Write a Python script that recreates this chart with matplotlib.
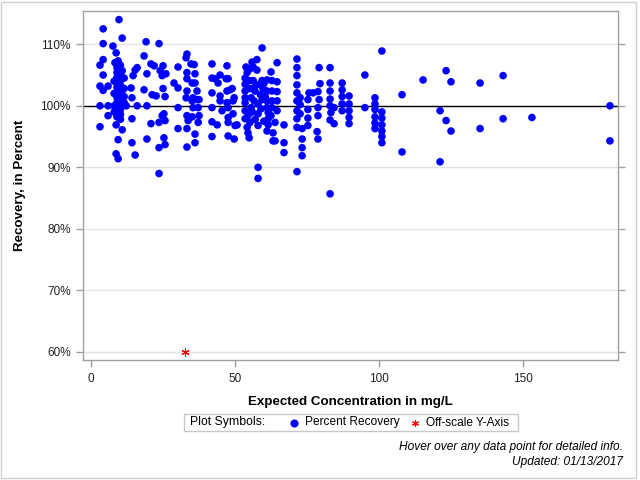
import matplotlib
matplotlib.use("Agg")
import matplotlib.pyplot as plt
from matplotlib.lines import Line2D
from matplotlib.patches import Rectangle
from matplotlib.ticker import PercentFormatter

plt.rcParams["font.family"] = ["Liberation Sans", "DejaVu Sans"]

# expected concentration (mg/L) and percent recovery
conc = [
    3.1, 4.2, 4.2, 4.2, 4.2, 3.1, 4.2, 3.1, 3.1,
    5.9, 5.9, 5.9, 7.6, 8.7, 9.7, 10.8, 8.3, 9.4, 10.8, 12.2, 10.8, 8.7, 10.8, 9.4, 8.7, 9.4,
    9.0, 9.0, 9.0, 9.0, 9.0, 9.0, 9.0, 9.0, 9.0, 9.0, 9.0, 9.0,
    10.2, 10.2, 10.2, 10.2, 10.2, 10.2, 10.2, 10.2, 10.2, 10.2, 10.2, 10.2,
    8.0, 8.0, 8.0, 8.0, 11.5, 11.5, 11.5, 11.5,
    13.9, 14.2, 14.2, 14.2, 15.3, 14.6, 15.3, 16.0, 16.0,
    19.1, 18.4, 19.4, 18.4, 19.4, 19.4, 20.8, 20.8, 21.9, 21.2, 22.6,
    23.6, 23.6, 23.6, 23.6, 24.0, 24.7, 25.0, 25.0, 25.7, 25.3, 25.7, 25.3, 25.7, 24.7, 26.0,
    28.8, 30.2, 30.2, 30.2, 30.2,
    33.3, 33.0, 33.3, 33.3, 33.3, 33.0, 33.3, 33.7, 33.3, 33.3, 34.7, 35.8, 36.1, 35.1,
    36.1, 35.4, 35.1, 35.1, 36.8, 36.8, 37.5, 37.5, 37.2, 36.1, 36.1, 35.4, 37.2,
    42.0, 42.0, 42.0, 42.0, 42.0, 42.0, 43.8, 43.1, 44.1, 44.8, 44.8, 44.8, 45.5, 47.2,
    46.9, 47.6, 48.3, 47.2, 47.2, 47.6, 47.6, 47.6, 47.6, 49.0, 49.7, 49.3, 49.3, 50.0,
    50.7, 49.7,
    53.8, 54.2, 53.5, 53.5, 53.5, 53.5, 53.5, 53.5, 53.5, 54.2, 54.5, 54.9, 54.5, 55.2,
    54.9, 55.2, 55.6, 55.6, 55.2, 55.9, 56.3, 56.3, 56.9, 56.6, 57.6, 58.0, 58.0, 58.0,
    58.0, 58.0, 59.4, 57.6, 59.4, 59.7, 59.4, 61.1, 61.1, 61.1, 61.1, 61.5, 61.5, 61.5,
    61.1, 62.5, 62.8, 62.8, 62.8, 62.8, 62.5, 63.2, 63.2, 63.9, 64.6, 64.6, 64.6, 64.6,
    64.6, 63.9, 67.0, 67.0, 67.0,
    57.0, 58.5, 60.0, 60.5, 58.8, 56.0, 59.0, 60.0, 57.0,
    71.5, 71.5, 71.5, 71.5, 71.5, 71.5, 71.5, 71.5, 71.5, 71.5, 72.6, 72.6, 72.6, 73.3,
    73.3, 73.3, 73.3,
    75.3, 75.3, 75.3, 75.3, 75.7, 77.1, 78.8, 79.5, 79.2, 79.2, 78.8, 78.8, 78.5, 78.8,
    83.0, 83.0, 83.0, 83.0, 83.0, 83.3, 83.0, 84.4, 84.4, 83.0,
    87.2, 87.2, 87.2, 87.2, 87.2, 89.6, 89.6, 89.6, 89.6, 89.6,
    95.1, 95.1, 101.0, 98.6, 98.6, 98.6, 98.6, 98.6, 98.6,
    101.0, 101.0, 101.0, 101.0, 101.0, 101.0, 108.0, 108.0, 115.3, 121.2, 121.2,
    123.3, 123.3, 125.0, 125.0, 135.1, 135.1, 143.1, 143.1, 153.1, 180.2, 180.2,
]
recovery = [
    106.6, 112.5, 110.1, 107.5, 105.0, 103.2, 102.5, 100.0, 96.6,
    100.0, 98.4, 103.2, 109.7, 108.6, 114.0, 111.0, 107.0, 107.3, 105.7, 100.0, 101.8, 96.9, 96.1, 94.5, 92.2, 91.4,
    107.0, 106.2, 105.4, 104.6, 103.8, 103.0, 102.2, 101.4, 100.6, 99.8, 99.0, 98.2,
    106.6, 105.8, 105.0, 104.2, 103.4, 102.6, 101.8, 101.0, 100.2, 99.4, 98.6, 97.8,
    104.0, 102.0, 100.0, 99.0, 104.5, 102.8, 101.5, 100.5,
    102.9, 101.3, 97.9, 94.0, 92.0, 104.9, 105.8, 106.2, 100.0,
    110.4, 108.1, 105.2, 102.6, 100.0, 94.6, 97.1, 106.8, 106.5, 101.8, 101.6,
    110.1, 89.0, 93.2, 97.3, 105.7, 104.9, 106.5, 102.8, 101.5, 98.7, 97.6, 94.8, 93.7, 98.4, 105.2,
    103.7, 102.9, 99.7, 96.3, 106.3,
    108.4, 107.8, 104.4, 105.4, 102.4, 101.3, 98.4, 97.6, 96.3, 93.3, 106.8, 106.7, 105.2, 103.7,
    103.7, 101.3, 100.8, 98.2, 102.4, 101.0, 101.0, 98.4, 97.3, 95.4, 94.0, 99.7, 99.7,
    106.8, 104.5, 102.1, 99.7, 97.4, 95.0, 96.9, 104.4, 103.7, 105.0, 101.6, 100.8, 99.2, 106.5,
    104.4, 104.4, 102.6, 102.4, 100.5, 99.7, 98.1, 97.3, 95.1, 102.8, 101.3, 100.8, 98.7, 96.8,
    96.9, 94.6,
    106.3, 105.4, 104.5, 103.5, 102.4, 101.3, 100.5, 99.2, 97.9, 96.5, 95.6, 94.8, 98.4, 106.0,
    104.1, 102.8, 101.3, 99.7, 97.3, 107.1, 106.3, 104.1, 102.4, 100.8, 107.5, 100.3, 98.7, 96.8,
    90.0, 88.2, 109.4, 105.8, 104.1, 102.8, 101.0, 104.2, 102.4, 100.8, 99.7, 98.9, 97.9, 96.9,
    95.9, 105.5, 104.1, 102.4, 100.8, 99.7, 98.4, 95.6, 94.3, 97.3, 107.0, 103.9, 102.3, 100.8,
    99.2, 94.3, 96.9, 94.0, 92.4,
    103.2, 103.5, 103.6, 101.5, 101.8, 99.0, 99.5, 97.5, 97.8,
    107.6, 106.2, 104.9, 103.4, 102.1, 100.8, 99.2, 97.9, 96.5, 89.3, 101.3, 100.2, 98.7, 94.6,
    93.2, 91.9, 96.3,
    101.0, 99.4, 98.0, 96.8, 102.1, 102.1, 102.3, 103.6, 106.2, 101.0, 99.7, 98.4, 95.8, 94.6,
    106.2, 103.7, 102.4, 101.1, 100.0, 98.9, 97.7, 99.7, 97.1, 85.7,
    103.7, 102.6, 101.5, 100.3, 99.2, 101.6, 100.3, 99.2, 98.1, 97.1,
    105.0, 99.7, 108.9, 101.3, 100.3, 99.4, 98.2, 97.2, 96.3,
    99.0, 98.0, 96.9, 95.9, 95.0, 94.0, 101.8, 92.5, 104.2, 99.2, 90.9,
    105.7, 97.6, 103.9, 95.9, 103.7, 96.3, 104.9, 97.9, 98.1, 100.0, 94.3,
]

# points below the axis floor, drawn at 60%
offscale_conc = [32.6]
offscale_recovery = [60.0]

y_ticks = [60, 70, 80, 90, 100, 110]
x_ticks = [0, 50, 100, 150]

blue = "#0000FF"
axis_gray = "#A0A0A0"

fig = plt.figure(figsize=(6.4, 4.8), dpi=100)
ax = fig.add_axes([83 / 640, 120 / 480, 535 / 640, 349 / 480])

ax.scatter(conc, recovery, s=30, color=blue, edgecolors="none", zorder=3)
ax.scatter(offscale_conc, offscale_recovery, s=28, marker=(6, 2, 0),
           color="red", linewidths=0.8, zorder=3)
ax.axhline(100, color="black", lw=1, zorder=2)

ax.set_xlim(-2.8, 183)
ax.set_ylim(58.7, 115.4)
ax.set_xticks(x_ticks)
ax.set_yticks(y_ticks)
ax.yaxis.set_major_formatter(PercentFormatter(decimals=0))
ax.grid(axis="y", color="#E4E4E4", lw=1, zorder=0)
ax.set_axisbelow(True)

for side in ["left", "right", "top", "bottom"]:
    ax.spines[side].set_color(axis_gray)
    ax.spines[side].set_linewidth(1)
ax.tick_params(axis="both", direction="out", length=5, width=1, color=axis_gray,
               labelsize=8.5, labelcolor="#222222", pad=4)
ax.tick_params(axis="y", right=True, labelright=False)

ax.set_xlabel("Expected Concentration in mg/L", fontsize=9.6, fontweight="bold", labelpad=8)
ax.set_ylabel("Recovery, in Percent", fontsize=9.6, fontweight="bold", labelpad=10)

# legend box
fig.add_artist(Rectangle((184 / 640, 49 / 480), 334 / 640, 17 / 480,
                         transform=fig.transFigure, fill=False,
                         edgecolor="#C8C8C8", lw=1))
ly = 57.5 / 480
fig.text(190 / 640, ly, "Plot Symbols:", fontsize=8.8, va="center", ha="left")
fig.add_artist(Line2D([294 / 640], [ly], transform=fig.transFigure, marker="o",
                      markersize=4.8, color=blue, ls="none"))
fig.text(305 / 640, ly, "Percent Recovery", fontsize=8.6, va="center", ha="left")
fig.add_artist(Line2D([415 / 640], [ly], transform=fig.transFigure, marker=(6, 2, 0),
                      markersize=5, color="red", mew=0.8, ls="none"))
fig.text(426 / 640, ly, "Off-scale Y-Axis", fontsize=8.6, va="center", ha="left")

fig.text(623 / 640, 33 / 480, "Hover over any data point for detailed info.",
         fontsize=8.6, style="italic", ha="right", va="center")
fig.text(623 / 640, 18 / 480, "Updated: 01/13/2017",
         fontsize=8.6, style="italic", ha="right", va="center")

# outer frame
fig.add_artist(Rectangle((1 / 640, 2 / 480), 635 / 640, 476 / 480,
                         transform=fig.transFigure, fill=False,
                         edgecolor="#D0D0D0", lw=1))

fig.savefig("out.png", dpi=100)
